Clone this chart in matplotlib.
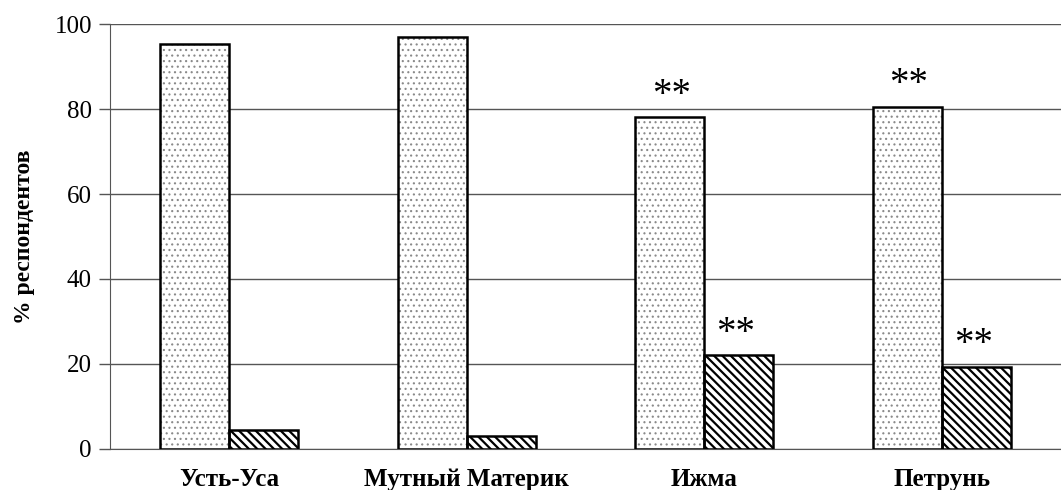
import numpy as np
import matplotlib.pyplot as plt

# values (% respondents)
categories = ['Усть-Уса', 'Мутный Материк', 'Ижма', 'Петрунь']
series_dots = [95.2, 96.9, 78.1, 80.5]
series_hatch = [4.5, 3.1, 22.0, 19.3]
marks_dots = ['', '', '**', '**']
marks_hatch = ['', '', '**', '**']

plt.rcParams['font.family'] = ['Liberation Serif', 'DejaVu Serif']
plt.rcParams['hatch.linewidth'] = 1.6

fig = plt.figure(figsize=(10.61, 4.9), dpi=100)
ax = fig.add_axes([0.1037, 0.0837, 0.8963, 0.8673])

x = np.arange(len(categories))
w = 0.29

# dotted bars: grey dots, then black outline on top
dots = ax.bar(x - w / 2, series_dots, w, color='white', edgecolor='#8a8a8a', hatch='...', linewidth=0, zorder=3)
for p in dots:
    if hasattr(p, 'set_hatch_linewidth'):
        p.set_hatch_linewidth(0.8)
ax.bar(x - w / 2, series_dots, w, fill=False, edgecolor='black', linewidth=1.8, zorder=4)
ax.bar(x + w / 2, series_hatch, w, color='white', edgecolor='black', hatch='\\\\\\\\', linewidth=1.8, zorder=3)

for i in range(len(categories)):
    if marks_dots[i]:
        ax.annotate(marks_dots[i], (x[i] - w / 2, series_dots[i]), xytext=(1, 9), textcoords='offset points',
                    ha='center', va='baseline', fontsize=28)
    if marks_hatch[i]:
        ax.annotate(marks_hatch[i], (x[i] + w / 2, series_hatch[i]), xytext=(-2, 9), textcoords='offset points',
                    ha='center', va='baseline', fontsize=28)

ax.set_ylim(0, 100)
ax.set_xlim(-0.5, len(categories) - 0.5)
ax.set_yticks([0, 20, 40, 60, 80, 100])
ax.yaxis.grid(True, color='#555555', linewidth=1.0)
ax.set_axisbelow(True)
ax.tick_params(axis='y', length=8, width=1.0, color='#555555', labelsize=18, pad=5)
ax.tick_params(axis='x', length=0, labelsize=18, pad=14)
ax.set_xticks(x)
ax.set_xticklabels(categories, fontweight='bold')
ax.set_ylabel('% респондентов', fontsize=17, fontweight='bold', labelpad=14)

for s in ['top', 'right']:
    ax.spines[s].set_visible(False)
ax.spines['left'].set_color('#555555')
ax.spines['bottom'].set_color('#555555')

fig.savefig('out.png', dpi=100)
